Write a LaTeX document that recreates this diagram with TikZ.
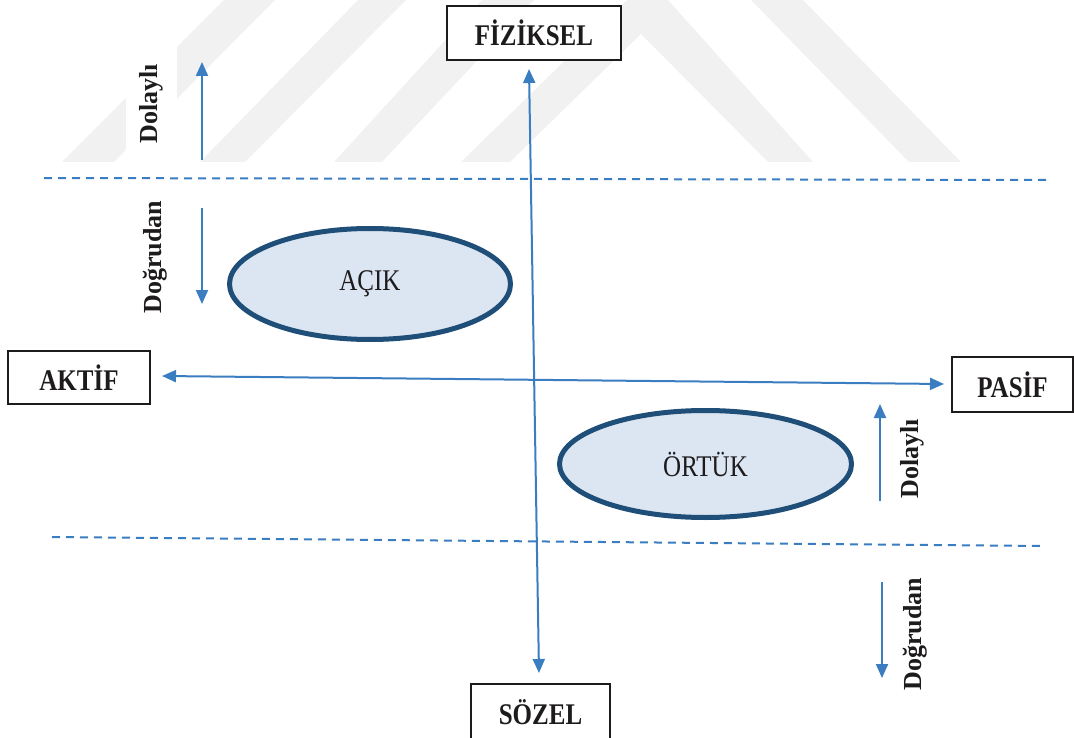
\documentclass[tikz,border=0pt]{standalone}
\usepackage{fontspec}
\setmainfont{Liberation Serif}
\usetikzlibrary{arrows.meta,shapes.geometric}
\definecolor{arrowblue}{RGB}{58,125,193}
\definecolor{ellborder}{RGB}{31,78,121}
\definecolor{ellfill}{RGB}{220,230,242}
\definecolor{ink}{RGB}{30,27,28}
\definecolor{wmark}{RGB}{241,241,241}
% taller lettering for the labels
\newcommand{\tall}[1]{\scalebox{1}[1.2]{#1}}

\begin{document}
\begin{tikzpicture}[x=1pt,y=-1pt,
  termbox/.style={draw=ink, line width=1.2pt, fill=white, inner sep=0pt,
    font=\fontsize{25}{28}\selectfont\bfseries, text=ink},
  zone/.style={ellipse, draw=ellborder, line width=5pt, fill=ellfill, inner sep=0pt,
    font=\fontsize{25}{28}\selectfont, text=ink},
  sidelabel/.style={rotate=90, fill=white, inner sep=1pt,
    font=\fontsize{26}{28}\selectfont\bfseries, text=ink},
  axis/.style={draw=arrowblue, line width=2pt, {Triangle[length=14pt,width=12pt]}-{Triangle[length=14pt,width=12pt]}},
  level/.style={draw=arrowblue, line width=2pt, -{Triangle[length=14pt,width=12pt]}},
  divider/.style={draw=arrowblue, line width=2pt, dash pattern=on 8pt off 6pt},
  stripe/.style={fill=wmark, draw=none}
]
\useasboundingbox (0,0) rectangle (1074,738);
\clip (0,0) rectangle (1074,738);

% faint background stripes
\path[stripe] (62,162) -- (114,162) -- (275,0) -- (224,0) -- cycle;
\path[stripe] (200,162) -- (245,162) -- (406,0) -- (358,0) -- cycle;
\path[stripe] (334,162) -- (382,162) -- (534,0) -- (482,0) -- cycle;
\path[stripe] (461,162) -- (627,0) -- (668,0) -- (813,162) -- (768,162) -- (641,34) -- (510,162) -- cycle;
\path[stripe] (751,0) -- (803,0) -- (961,162) -- (909,162) -- cycle;

% dashed level dividers
\coordinate (d1a) at (44,178);
\coordinate (d1b) at (1046,180);
\coordinate (d2a) at (52,537);
\coordinate (d2b) at (1042,546);
\draw[divider] (d1a) -- (d1b);
\draw[divider] (d2a) -- (d2b);

% end-point boxes
\node[termbox, minimum width=174pt, minimum height=54pt] (fiz) at (534,33) {\tall{FİZİKSEL}};
\node[termbox, minimum width=142pt, minimum height=53pt] (akt) at (79,377.5) {\tall{AKTİF}};
\node[termbox, minimum width=121pt, minimum height=55pt] (pas) at (1012.5,384.5) {\tall{PASİF}};
\node[termbox, minimum width=139pt, minimum height=62pt, text depth=0pt] (soz) at (540.5,715) {\raisebox{5pt}{\tall{SÖZEL}}};

% main axes
\coordinate (vt) at (529,69);
\coordinate (vb) at (539,673);
\coordinate (hl) at (162,376);
\coordinate (hr) at (944,384);
\draw[axis] (vt) -- (vb);
\draw[axis] (hl) -- (hr);

% quadrant ellipses
\node[zone, minimum width=281pt, minimum height=111pt] (acik) at (370,284) {\tall{AÇIK}};
\node[zone, minimum width=292pt, minimum height=107pt] (ortuk) at (705.5,464) {\tall{ÖRTÜK}};

% side level arrows
\coordinate (l1s) at (202,160);
\coordinate (l1e) at (202,62);
\coordinate (l2s) at (202,208);
\coordinate (l2e) at (202,304);
\coordinate (r1s) at (880,501);
\coordinate (r1e) at (880,404);
\coordinate (r2s) at (882,582);
\coordinate (r2e) at (882,678);
\draw[level] (l1s) -- (l1e);
\draw[level] (l2s) -- (l2e);
\draw[level] (r1s) -- (r1e);
\draw[level] (r2s) -- (r2e);

% side labels
\node[sidelabel, minimum width=121pt, minimum height=51pt] (lbl1) at (151,104) {Dolaylı};
\node[sidelabel] (lbl2) at (155,257) {Doğrudan};
\node[sidelabel] (lbl3) at (912,459) {Dolaylı};
\node[sidelabel] (lbl4) at (915,634) {Doğrudan};
\end{tikzpicture}
\end{document}
